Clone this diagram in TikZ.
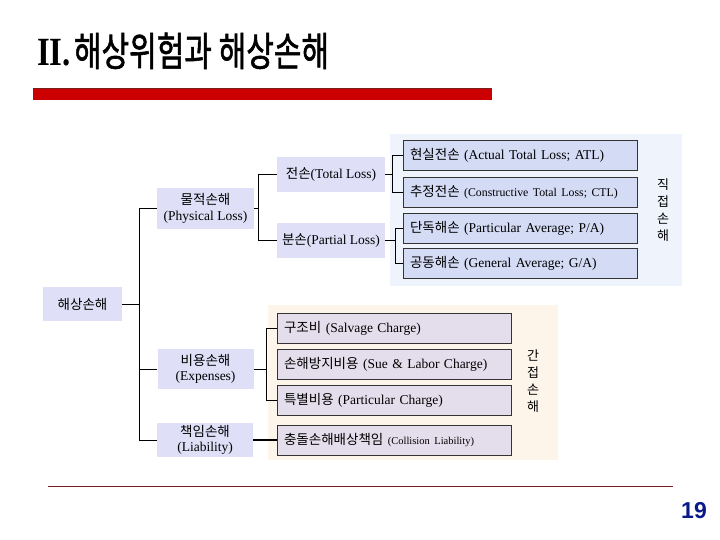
\documentclass[tikz,border=0pt]{standalone}
\usepackage{fontspec}
\setmainfont{Liberation Serif}
\newfontfamily\krfont{Noto Sans CJK KR}
\newfontfamily\krtitle{Noto Sans CJK KR}[FakeBold=1.5]
\newfontfamily\numfont{Liberation Sans}
\newcommand{\krt}[1]{{\krfont #1}}
\usetikzlibrary{calc}
\definecolor{panelA}{HTML}{EEF3FC}
\definecolor{boxA}{HTML}{D4DBF5}
\definecolor{panelB}{HTML}{FDF4EA}
\definecolor{boxB}{HTML}{E4DEEC}
\definecolor{leftbox}{HTML}{DFDFF7}
\definecolor{titlered}{HTML}{CC0000}
\definecolor{darkred}{HTML}{7A1F1F}
\definecolor{navy}{HTML}{0A1A8A}
\tikzset{
  sbox/.style={draw=black!80, line width=0.8pt, minimum height=30pt,
    text width=220pt, inner xsep=7pt, inner ysep=0pt, align=left,
    font=\frenchspacing\fontsize{13.5}{16}\selectfont},
  sboxA/.style={sbox, fill=boxA},
  sboxB/.style={sbox, fill=boxB},
  lbox/.style={fill=leftbox, inner sep=0pt, align=center,
    font=\fontsize{13.5}{15.5}\selectfont},
  conn/.style={draw=black, line width=0.9pt},
  vlabel/.style={align=center, inner sep=0pt, font=\krfont\fontsize{13}{17}\selectfont},
  panel/.style={inner sep=0pt}
}
\begin{document}
\begin{tikzpicture}[x=1pt,y=-1pt]
\useasboundingbox (0,0) rectangle (720,540);
% title
\node[anchor=base west, inner sep=0pt] (title) at (37,66)
  {\fontsize{40}{44}\selectfont\scalebox{0.82}[1]{\bfseries II.}\hspace{3pt}\scalebox{0.75}[1]{\krtitle 해상위험과 해상손해}};
\fill[titlered] (33,88) rectangle (492,100);
\draw[darkred, line width=0.8pt] (33,88.4) -- (492,88.4);
% panels
\node[panel, fill=panelA, minimum width=292pt, minimum height=152pt] (panA) at (536,210) {};
\node[panel, fill=panelB, minimum width=290pt, minimum height=155pt] (panB) at (413,382.5) {};
% upper boxes
\node[sboxA] (b1) at (520,155.5) {\krt{현실전손} (Actual Total Loss; ATL)};
\node[sboxA] (b2) at (520,192) {\krt{추정전손} {\fontsize{11.8}{14}\selectfont (Constructive Total Loss; CTL)}};
\node[sboxA] (b3) at (520,228) {\krt{단독해손} (Particular Average; P/A)};
\node[sboxA] (b4) at (520,263) {\krt{공동해손} (General Average; G/A)};
\node[vlabel] (direct) at (663,210) {직\\접\\손\\해};
% lower boxes
\node[sboxB] (c1) at (394,328) {\krt{구조비} (Salvage Charge)};
\node[sboxB] (c2) at (394,364) {\krt{손해방지비용} (Sue \& Labor Charge)};
\node[sboxB] (c3) at (394,400) {\krt{특별비용} (Particular Charge)};
\node[sboxB] (c4) at (394,440) {\krt{충돌손해배상책임} {\fontsize{10.5}{12}\selectfont (Collision Liability)}};
\node[vlabel] (indirect) at (533,381) {간\\접\\손\\해};
% left boxes
\node[lbox, minimum width=108pt, minimum height=35pt] (jeonson) at (331,174.5) {\krt{전손}(Total Loss)};
\node[lbox, minimum width=108pt, minimum height=35pt] (bunson) at (331,240.5) {\krt{분손}(Partial Loss)};
\node[lbox, minimum width=97pt, minimum height=41pt] (muljeok) at (205.5,208.5) {\krt{물적손해}\\(Physical Loss)};
\node[lbox, minimum width=79pt, minimum height=34pt] (haesang) at (82.5,304) {\krt{해상손해}};
\node[lbox, minimum width=96pt, minimum height=40pt] (biyong) at (205.5,369) {\krt{비용손해}\\(Expenses)};
\node[lbox, minimum width=96pt, minimum height=34pt] (chaegim) at (205,440) {\krt{책임손해}\\(Liability)};
% bracket coordinates
\coordinate (k1) at (392,0);
\coordinate (k2) at (395,0);
\coordinate (k3) at (258,0);
\coordinate (k4) at (139,0);
\coordinate (k5) at (266,0);
% connectors
\draw[conn] (b1.west) -- (b1.west -| k1) -- (b2.west -| k1) -- (b2.west);
\draw[conn] (jeonson.east) -- (jeonson.east -| k1);
\draw[conn] (b3.west) -- (b3.west -| k2) -- (b4.west -| k2) -- (b4.west);
\draw[conn] (bunson.east) -- (bunson.east -| k2);
\draw[conn] (jeonson.west) -- (jeonson.west -| k3) -- (bunson.west -| k3) -- (bunson.west);
\draw[conn] (muljeok.east) -- (muljeok.east -| k3);
\draw[conn] (muljeok.west) -- (muljeok.west -| k4) -- (chaegim.west -| k4) -- (chaegim.west);
\draw[conn] (biyong.west) -- (biyong.west -| k4);
\draw[conn] (haesang.east) -- (haesang.east -| k4);
\draw[conn] (c1.west) -- (c1.west -| k5) -- (c3.west -| k5) -- (c3.west);
\draw[conn] (biyong.east) -- (biyong.east -| k5);
\draw[conn, line width=1.8pt] (chaegim.east) -- (c4.west);
% footer
\draw[darkred, line width=1pt] (48,486) -- (673,486);
\node[anchor=base east, inner sep=0pt, text=navy, font=\numfont\bfseries\fontsize{23}{25}\selectfont] (pagenum) at (707,518) {19};
\end{tikzpicture}
\end{document}
